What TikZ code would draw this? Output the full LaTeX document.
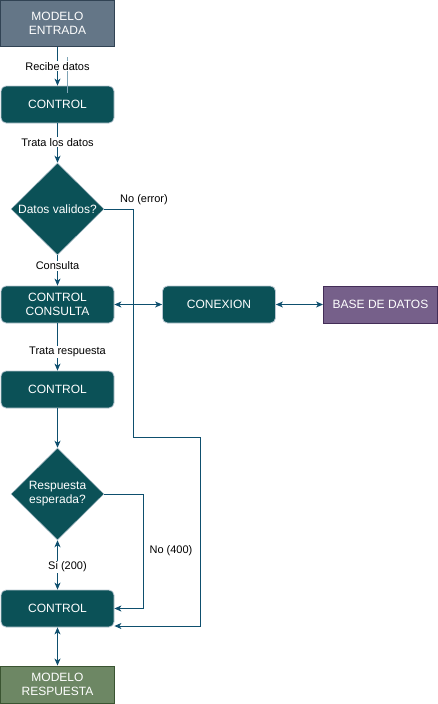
\documentclass[tikz,border=0pt]{standalone}
\usepackage{fontspec}
\setmainfont{Liberation Sans}
\usetikzlibrary{shapes.geometric,arrows.meta}
\definecolor{teal}{HTML}{0B5157}
\definecolor{tealborder}{HTML}{BAC8D3}
\definecolor{edge}{HTML}{0E4F6E}
\definecolor{lightedge}{HTML}{7FA5B6}
\definecolor{slate}{HTML}{647687}
\definecolor{slateborder}{HTML}{314354}
\definecolor{purp}{HTML}{76608A}
\definecolor{purpborder}{HTML}{432D57}
\definecolor{olive}{HTML}{6D8764}
\definecolor{oliveborder}{HTML}{3A5431}
\begin{document}
\begin{tikzpicture}[x=1pt,y=-1pt,
  box/.style={draw=tealborder,fill=teal,rounded corners=5pt,minimum width=113pt,minimum height=37pt,
    text=white,font=\fontsize{12}{14}\selectfont,align=center,inner sep=0pt,line width=0.8pt},
  plainbox/.style={minimum width=114pt,minimum height=37pt,text=white,
    font=\fontsize{12}{14}\selectfont,align=center,inner sep=0pt,line width=0.9pt},
  decision/.style={diamond,aspect=1,draw=tealborder,fill=teal,minimum width=93pt,minimum height=92pt,
    text=white,font=\fontsize{12}{14}\selectfont,align=center,inner sep=0pt,line width=0.5pt},
  conn/.style={draw=edge,line width=0.9pt,-{Stealth[length=7pt,width=6pt,inset=2pt]}},
  biconn/.style={draw=edge,line width=0.9pt,{Stealth[length=7pt,width=6pt,inset=2pt]}-{Stealth[length=7pt,width=6pt,inset=2pt]}},
  lbl/.style={fill=white,inner sep=1pt,font=\fontsize{11}{13}\selectfont,text=black}
]
\useasboundingbox (0,0) rectangle (438,704);

\node[plainbox,draw=slateborder,fill=slate,minimum width=114pt,minimum height=46pt] (me) at (57.5,23.5) {MODELO\\ENTRADA};
\node[box] (c1) at (57.5,104.5) {CONTROL};
\node[decision] (d1) at (57.5,209) {Datos validos?};
\node[box] (cc) at (57.5,304.5) {CONTROL\\CONSULTA};
\node[box] (cx) at (219,304.5) {CONEXION};
\node[plainbox,draw=purpborder,fill=purp] (db) at (380.5,304.5) {BASE DE DATOS};
\node[box] (c2) at (57.5,389.5) {CONTROL};
\node[decision] (d2) at (57.5,494) {Respuesta\\esperada?};
\node[box] (c3) at (57.5,608.5) {CONTROL};
\node[plainbox,draw=oliveborder,fill=olive,minimum height=37pt] (mr) at (57.5,684.5) {MODELO\\RESPUESTA};

% stray light line
\coordinate (s1) at (67,57);
\coordinate (s2) at (67,93);
\draw[lightedge,line width=1pt] (s1) -- (s2);

\draw[conn] (me.south) -- (c1.north) node[lbl,pos=0.5] {Recibe datos};
\draw[conn] (c1.south) -- (d1.north) node[lbl,pos=0.48] {Trata los datos};
\draw[conn] (d1.south) -- (cc.north) node[lbl,pos=0.35] {Consulta};
\draw[conn] (cc.south) -- (c2.north) node[lbl,pos=0.6,xshift=10pt] {Trata respuesta};
\draw[conn] (c2.south) -- (d2.north);
\draw[biconn] (d2.south) -- (c3.north) node[lbl,pos=0.54,xshift=10pt] {Si (200)};
\draw[biconn] (c3.south) -- (mr.north);
\draw[biconn] (cc.east) -- (cx.west);
\draw[biconn] (cx.east) -- (db.west);

\coordinate (e1) at (133,437);
\coordinate (e2) at (200,626);
\draw[conn] (d1.east) -| (e1) -| (e2) -- (c3.east |- e2);
\node[font=\fontsize{11}{13}\selectfont] (lerr) at (144,200) {No (error)};

\coordinate (f1) at (143,608.5);
\draw[conn] (d2.east) -| (f1) -- (c3.east);
\node[lbl] (l400) at (171,551) {No (400)};
\end{tikzpicture}
\end{document}
